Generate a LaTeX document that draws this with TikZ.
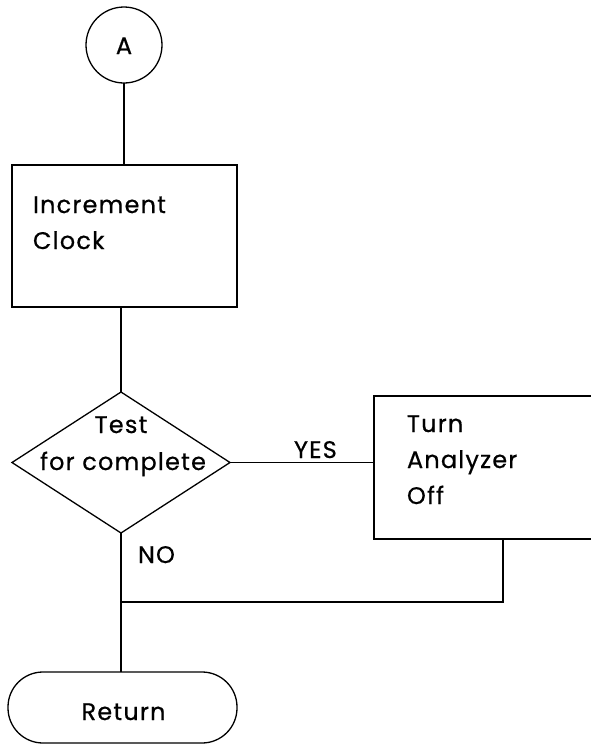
\documentclass[tikz,border=0pt]{standalone}
\usepackage{fontspec}
\setmainfont{Poppins}[LetterSpace=5,FakeBold=0.6]
\usetikzlibrary{shapes.geometric}
\begin{document}
\begin{tikzpicture}[x=1pt,y=-1pt,line width=1.3pt,
  every node/.style={inner sep=0pt,outer sep=0pt},
  connector/.style={draw,circle,minimum size=76pt},
  procbox/.style={draw,rectangle},
  decision/.style={draw,diamond},
  terminal/.style={draw,rectangle,rounded corners=35pt},
  txt/.style={font=\fontsize{24}{28}\selectfont,anchor=base west},
  ctxt/.style={font=\fontsize{24}{28}\selectfont,anchor=base}]
\useasboundingbox (0,0) rectangle (591,748);

% shapes
\node[connector] (A) at (124,45) {};
\node[procbox,minimum width=225pt,minimum height=142pt] (inc) at (124.5,236) {};
\node[decision,minimum width=218pt,minimum height=141pt] (test) at (121,462.5) {};
\node[procbox,minimum width=246pt,minimum height=143pt] (turn) at (497,467.5) {};
\node[terminal,minimum width=229pt,minimum height=71pt] (ret) at (122.5,707.5) {};

% texts
\node[ctxt] (tA) at (124,54) {A};
\node[txt] (t1) at (33,213) {Increment};
\node[txt] (t2) at (33,249) {Clock};
\node[ctxt] (t3) at (121,433) {Test};
\node[ctxt] (t4) at (123,470) {for complete};
\node[txt] (tyes) at (294,458) {YES};
\node[txt] (tno) at (138,563) {NO};
\node[txt] (t5) at (407,432) {Turn};
\node[txt] (t6) at (407,468) {Analyzer};
\node[txt] (t7) at (407,504) {Off};
\node[ctxt] (t8) at (123.5,720) {Return};

% connectors
\coordinate (join) at (121,602);
\draw (A.south) -- (A.south |- inc.north);
\draw (test.north |- inc.south) -- (test.north);
\draw (test.east) -- (turn.west |- test.east);
\draw ([xshift=6pt]turn.south) |- (join);
\draw (test.south) -- (test.south |- ret.north);
\end{tikzpicture}
\end{document}
